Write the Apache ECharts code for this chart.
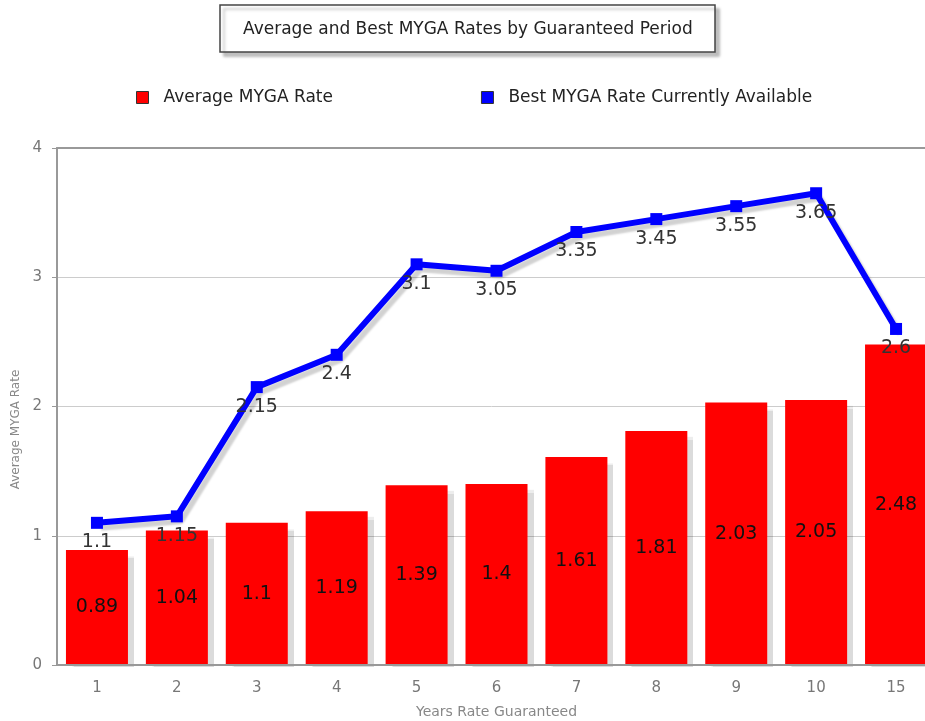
<!DOCTYPE html>
<html lang="en">
<head>
    <meta charset="UTF-8">
    <title>MYGA Rates</title>
    <style>
        html, body { margin: 0; padding: 0; background: #fff; }
        #main { width: 925px; height: 721px; }
    </style>
</head>
<body>
    <div id="main"></div>
    <script src="https://cdn.jsdelivr.net/npm/echarts@6/dist/echarts.min.js"></script>
    <script type="text/javascript">
        // data
        var years = ['1', '2', '3', '4', '5', '6', '7', '8', '9', '10', '15'];
        var avgRate = [0.89, 1.04, 1.1, 1.19, 1.39, 1.4, 1.61, 1.81, 2.03, 2.05, 2.48];
        var bestRate = [1.1, 1.15, 2.15, 2.4, 3.1, 3.05, 3.35, 3.45, 3.55, 3.65, 2.6];
        var seriesNames = ['Average MYGA Rate', 'Best MYGA Rate Currently Available'];

        var font = 'DejaVu Sans';
        var chart = echarts.init(document.getElementById('main'));
        var option = {
            animation: false,
            textStyle: { fontFamily: font },
            // title box
            title: {
                text: 'Average and Best MYGA Rates by Guaranteed Period',
                left: 220,
                top: 5,
                padding: [16, 23, 14, 23],
                backgroundColor: '#fff',
                borderColor: '#444',
                borderWidth: 1.5,
                shadowColor: 'rgba(0,0,0,0.25)',
                shadowBlur: 3,
                shadowOffsetX: 4,
                shadowOffsetY: 4,
                textStyle: { fontFamily: font, fontSize: 17, fontWeight: 'normal', color: '#222' }
            },
            // legend
            legend: {
                data: seriesNames,
                left: 136,
                top: 89,
                padding: 0,
                itemWidth: 12,
                itemHeight: 12,
                itemGap: 148,
                icon: 'rect',
                itemStyle: { borderColor: '#333', borderWidth: 1 },
                textStyle: { fontFamily: font, fontSize: 17, color: '#222', padding: [0, 0, 0, 10] }
            },
            grid: { left: 57, right: -11, top: 148, bottom: 56, outerBoundsMode: 'none' },
            // mask so bar shadows stop at the baseline
            graphic: [{
                type: 'rect',
                left: 57,
                top: 667,
                shape: { width: 880, height: 8 },
                style: { fill: '#fff' },
                z: 10
            }],
            xAxis: [
                {
                    type: 'category',
                    data: years,
                    z: 20,
                    name: 'Years Rate Guaranteed',
                    nameLocation: 'middle',
                    nameGap: 40,
                    nameTextStyle: { fontFamily: font, fontSize: 14, color: '#888' },
                    axisLine: { lineStyle: { color: '#999', width: 2 } },
                    axisTick: { alignWithLabel: true, length: 5, lineStyle: { color: '#999' } },
                    axisLabel: { fontSize: 15, color: '#777', margin: 16 }
                },
                {
                    type: 'category',
                    data: years,
                    position: 'top',
                    axisLine: { show: true, lineStyle: { color: '#999', width: 2 } },
                    axisTick: { show: false },
                    axisLabel: { show: false }
                }
            ],
            yAxis: {
                type: 'value',
                min: 0,
                max: 4,
                interval: 1,
                name: 'Average MYGA Rate',
                nameLocation: 'middle',
                nameGap: 30,
                nameTextStyle: { fontFamily: font, fontSize: 12, color: '#888', padding: [0, 46, 0, 0] },
                axisLine: { show: true, lineStyle: { color: '#999', width: 2 } },
                axisTick: { show: true, length: 5, lineStyle: { color: '#999' } },
                axisLabel: { fontSize: 15, color: '#777', margin: 15 },
                splitLine: { lineStyle: { color: '#ccc' } }
            },
            series: [
                {
                    name: seriesNames[0],
                    type: 'bar',
                    data: avgRate,
                    barWidth: 62,
                    itemStyle: {
                        color: '#ff0000',
                        shadowColor: 'rgba(0,0,0,0.14)',
                        shadowBlur: 1,
                        shadowOffsetX: 6,
                        shadowOffsetY: 6
                    },
                    label: {
                        show: true,
                        position: 'inside',
                        fontFamily: font,
                        fontSize: 19,
                        color: '#111'
                    }
                },
                {
                    name: seriesNames[1],
                    type: 'line',
                    data: bestRate,
                    symbol: 'rect',
                    symbolSize: 12,
                    color: '#0000ff',
                    lineStyle: {
                        width: 6,
                        color: '#0000ff',
                        shadowColor: 'rgba(0,0,0,0.18)',
                        shadowBlur: 2,
                        shadowOffsetX: 4,
                        shadowOffsetY: 5
                    },
                    itemStyle: { color: '#0000ff' },
                    label: {
                        show: true,
                        position: 'bottom',
                        distance: 4,
                        fontFamily: font,
                        fontSize: 19,
                        color: '#333'
                    },
                    z: 3
                }
            ]
        };
        chart.setOption(option);
    </script>
</body>
</html>
